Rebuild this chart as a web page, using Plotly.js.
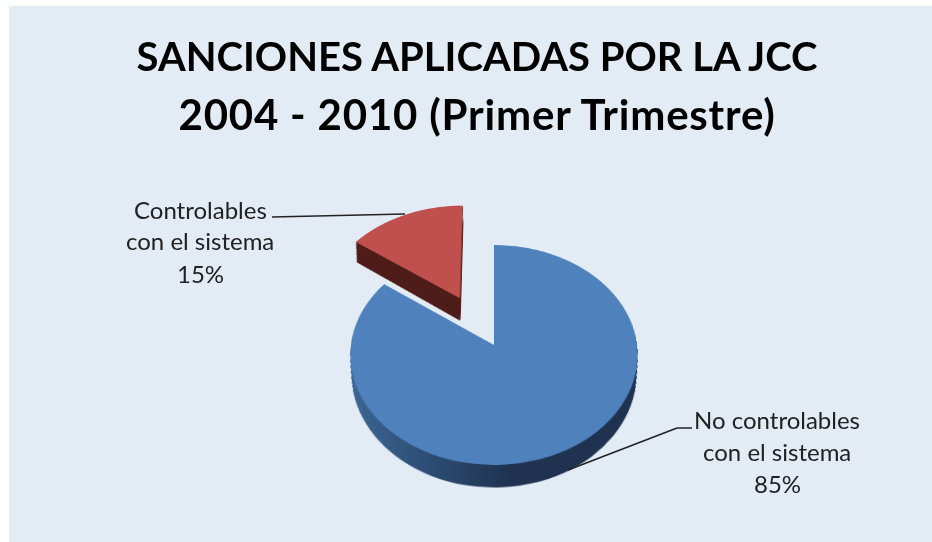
<!DOCTYPE html>
<html><head><meta charset="utf-8">
<script src="https://cdn.plot.ly/plotly-3.0.0.min.js"></script>
<style>
html,body{margin:0;padding:0;background:#fff;overflow:hidden}
#panel{position:absolute;left:9px;top:6px;width:923px;height:536px;background:#e3ebf5}
#chart{position:absolute;left:0;top:0;width:932px;height:542px}
</style></head><body>
<div id="panel"></div><div id="chart"></div>
<script>
const categories = ['No controlables con el sistema', 'Controlables con el sistema'];
const values = [85, 15];
const pulls = [0, 0.5];
const topColors = ['#4f81bd', '#c0504d'];
const sideColors = ['#2a4a70', '#4f1d19'];
const titleText = 'SANCIONES APLICADAS POR LA JCC<br>2004 - 2010 (Primer Trimestre)';
const labelLines = [['No controlables', 'con el sistema', '85%'], ['Controlables', 'con el sistema', '15%']];
const labelX = [777, 200];
const labelY = [419, 209];
const DEPTH = 24;

const pieBase = {type:'pie', labels:categories, values:values, pull:pulls, sort:false, direction:'clockwise',
  rotation:0, textinfo:'none', hoverinfo:'label+percent', showlegend:false,
  domain:{x:[(494-214.5)/932,(494+214.5)/932], y:[(271-214.5)/542,(271+214.5)/542]}};
const traces = [];
for (let k = DEPTH; k >= 1; k--) traces.push(Object.assign({}, pieBase, {marker:{colors:sideColors, line:{width:0}}}));
traces.push(Object.assign({}, pieBase, {marker:{colors:topColors, line:{width:0}}}));

const annotations = [];
labelLines.forEach((lines,i)=>lines.forEach((t,j)=>annotations.push({
  text:t, xref:'paper', yref:'paper', x:labelX[i]/932, y:1-(labelY[i]+j*32)/542, xanchor:'center', yanchor:'middle',
  showarrow:false, font:{family:'Lato, sans-serif', size:24, color:'#222'}})));

const line = {color:'#222', width:1.5};
const px = (x)=>x/932, py = (y)=>1-y/542;
const seg = (x0,y0,x1,y1)=>({type:'line',xref:'paper',yref:'paper',layer:'above',x0:px(x0),y0:py(y0),x1:px(x1),y1:py(y1),line});
const layout = {
  width:932, height:542, margin:{l:0,r:0,t:0,b:0},
  paper_bgcolor:'rgba(0,0,0,0)', plot_bgcolor:'rgba(0,0,0,0)',
  title:{text:titleText, x:477/932, xanchor:'center', y:1-71/542, yanchor:'middle',
    font:{family:'Lato, sans-serif', size:40, color:'#000', weight:700}},
  annotations, shapes:[seg(272,217,405,214), seg(692,428,677,428), seg(677,428,568,470)]
};
Plotly.newPlot('chart', traces, layout, {displayModeBar:false}).then(gd=>{
  const root = gd.querySelector('svg.main-svg');
  const defs = root.querySelector('defs');
  const NS='http://www.w3.org/2000/svg';
  const g = document.createElementNS(NS,'linearGradient');
  g.id='sideGrad'; g.setAttribute('gradientUnits','userSpaceOnUse');
  g.setAttribute('x1',351); g.setAttribute('x2',637); g.setAttribute('y1',0); g.setAttribute('y2',0);
  [[0,'#3d6896'],[0.3,'#2c4c74'],[0.55,'#1f3350'],[1,'#1f3350']].forEach(s=>{
    const e=document.createElementNS(NS,'stop'); e.setAttribute('offset',s[0]); e.setAttribute('stop-color',s[1]); g.appendChild(e);});
  defs.appendChild(g);
  const ts = root.querySelectorAll('.pielayer .trace');
  ts.forEach((t,i)=>{
    const off = DEPTH - i;
    const slices = t.querySelectorAll('g.slice');
    if (off>0){
      const sx = 1 - off*0.001;
      t.setAttribute('transform','translate('+(494*(1-sx))+','+off+') scale('+sx+',1)');
      const p = slices[0] && slices[0].querySelector('path.surface');
      if (p) p.style.fill='url(#sideGrad)';
    }
    if (slices[1]) slices[1].setAttribute('transform','translate(-3,'+(off*0.3)+')');
  });
  root.style.transformOrigin='494px 271px';
  root.style.transform='translateY(74px) perspective(1018px) rotateX(40.3deg)';
  const tsp = gd.querySelectorAll('.gtitle tspan.line');
  if (tsp.length===2){
    tsp[1].setAttribute('y',75);
    tsp[1].style.fontSize='42px';
    tsp[1].style.letterSpacing='0.8px';
  }
});
</script></body></html>
